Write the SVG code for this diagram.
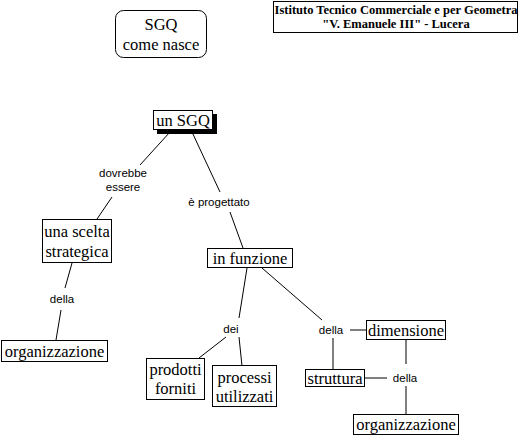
<svg xmlns="http://www.w3.org/2000/svg" width="519" height="439" viewBox="0 0 519 439">
<style>
.box{fill:#fff;stroke:#000;stroke-width:1}
.nt{font-family:"Liberation Serif","Times New Roman",serif;font-size:16.5px;fill:#000;text-anchor:middle}
.lt{font-family:"Liberation Sans",Arial,sans-serif;font-size:11.5px;fill:#000;text-anchor:middle}
.tt{font-family:"Liberation Serif","Times New Roman",serif;font-size:12.5px;font-weight:bold;fill:#000;text-anchor:middle}
.ln{stroke:#000;stroke-width:1;fill:none}
</style>
<rect width="519" height="439" fill="#fff"/>
<g id="connectors">
<line class="ln" x1="170" y1="132" x2="140" y2="165"/>
<line class="ln" x1="112" y1="197" x2="97" y2="219"/>
<line class="ln" x1="192" y1="132" x2="220" y2="192"/>
<line class="ln" x1="230" y1="212" x2="243" y2="248"/>
<line class="ln" x1="72" y1="263" x2="65" y2="288"/>
<line class="ln" x1="61" y1="310" x2="56" y2="340"/>
<line class="ln" x1="247" y1="268" x2="239" y2="318"/>
<line class="ln" x1="226" y1="337" x2="199" y2="358"/>
<line class="ln" x1="239" y1="337" x2="242" y2="366"/>
<line class="ln" x1="262" y1="268" x2="322" y2="320"/>
<line class="ln" x1="350" y1="330" x2="366" y2="330"/>
<line class="ln" x1="333" y1="338" x2="333" y2="369"/>
<line class="ln" x1="365" y1="378" x2="387" y2="378"/>
<line class="ln" x1="406" y1="339" x2="406" y2="364"/>
<line class="ln" x1="406" y1="386" x2="406" y2="414"/>
</g>
<g id="title">
<rect class="box" x="273.5" y="1.5" width="244" height="31"/>
<text class="tt" x="396" y="14">Istituto Tecnico Commerciale e per Geometra</text>
<text class="tt" x="396" y="28">"V. Emanuele III" - Lucera</text>
</g>
<g id="sgq-nasce">
<rect class="box" x="115.5" y="10.5" width="91" height="47" rx="8"/>
<text class="nt" x="161" y="30">SGQ</text>
<text class="nt" x="161" y="50">come nasce</text>
</g>
<g id="un-sgq">
<rect x="157" y="114" width="60" height="20" fill="#000"/>
<rect class="box" x="153.5" y="110.5" width="59" height="19"/>
<text class="nt" x="183" y="126">un SGQ</text>
</g>
<g id="lbl-dovrebbe">
<text class="lt" x="123" y="177">dovrebbe</text>
<text class="lt" x="123" y="191">essere</text>
</g>
<g id="lbl-progettato">
<text class="lt" x="219" y="206">è progettato</text>
</g>
<g id="scelta">
<rect class="box" x="42.5" y="219.5" width="69" height="43"/>
<text class="nt" x="77" y="237">una scelta</text>
<text class="nt" x="77" y="257">strategica</text>
</g>
<g id="lbl-della1">
<text class="lt" x="62" y="303">della</text>
</g>
<g id="org1">
<rect class="box" x="1.5" y="340.5" width="106" height="21"/>
<text class="nt" x="54.5" y="357">organizzazione</text>
</g>
<g id="funzione">
<rect class="box" x="207.5" y="248.5" width="85" height="19"/>
<text class="nt" x="250" y="264">in funzione</text>
</g>
<g id="lbl-dei">
<text class="lt" x="231" y="333">dei</text>
</g>
<g id="prodotti">
<rect class="box" x="146.5" y="358.5" width="58" height="41"/>
<text class="nt" x="175.5" y="375">prodotti</text>
<text class="nt" x="175.5" y="394">forniti</text>
</g>
<g id="processi">
<rect class="box" x="212.5" y="365.5" width="64" height="41"/>
<text class="nt" x="244.5" y="383">processi</text>
<text class="nt" x="244.5" y="402">utilizzati</text>
</g>
<g id="lbl-della2">
<text class="lt" x="331" y="334">della</text>
</g>
<g id="dimensione">
<rect class="box" x="366.5" y="320.5" width="79" height="19"/>
<text class="nt" x="406" y="336">dimensione</text>
</g>
<g id="struttura">
<rect class="box" x="305.5" y="369.5" width="59" height="17"/>
<text class="nt" x="335" y="384">struttura</text>
</g>
<g id="lbl-della3">
<text class="lt" x="405" y="382">della</text>
</g>
<g id="org2">
<rect class="box" x="353.5" y="414.5" width="105" height="20"/>
<text class="nt" x="406" y="430">organizzazione</text>
</g>
</svg>
